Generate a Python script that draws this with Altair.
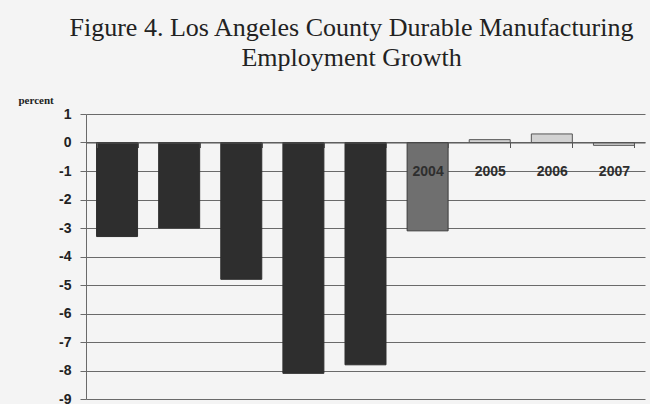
import altair as alt
import pandas as pd

years = ["1999", "2000", "2001", "2002", "2003", "2004", "2005", "2006", "2007"]
growth = [-3.3, -3.0, -4.8, -8.1, -7.8, -3.1, 0.1, 0.3, -0.1]
shade = ["dark", "dark", "dark", "dark", "dark", "mid", "light", "light", "light"]

shade_domain = ["dark", "mid", "light"]
shade_fill = ["#2e2e2e", "#6f6f6f", "#d2d2d2"]
shade_stroke = ["#2e2e2e", "#3a3a3a", "#555555"]

df = pd.DataFrame({"year": years, "growth": growth, "shade": shade})

W, H = 559, 285

bars = alt.Chart(df).mark_bar(strokeWidth=1).encode(
    x=alt.X(
        "year:N",
        sort=years,
        title=None,
        scale=alt.Scale(paddingInner=0.34, paddingOuter=0.17),
        axis=alt.Axis(
            orient="bottom",
            offset=-256.5,
            zindex=1,
            tickBand="extent",
            tickSize=5,
            tickColor="#555555",
            domainColor="#555555",
            domainWidth=1,
            labelAngle=0,
            labelPadding=17,
            labelFont="Liberation Sans",
            labelFontSize=14,
            labelFontWeight="bold",
            labelColor="#2e2e2e",
            grid=False,
        ),
    ),
    y=alt.Y(
        "growth:Q",
        scale=alt.Scale(domain=[-9, 1], nice=False),
        axis=alt.Axis(
            values=list(range(-9, 2)),
            labelExpr="'' + datum.value",
            grid=True,
            gridColor="#6a6a6a",
            gridWidth=1,
            tickColor="#6a6a6a",
            tickSize=6,
            domainColor="#6a6a6a",
            labelPadding=9,
            labelFont="Liberation Sans",
            labelFontSize=14,
            labelFontWeight="bold",
            labelColor="#222222",
            title="percent",
            titleAngle=0,
            titleFont="Liberation Serif",
            titleFontSize=11,
            titleFontWeight="bold",
            titleColor="#222222",
            titleAlign="left",
            titleBaseline="middle",
            titleX=-68,
            titleY=-14,
        ),
    ),
    color=alt.Color("shade:N", scale=alt.Scale(domain=shade_domain, range=shade_fill), legend=None),
    stroke=alt.Stroke("shade:N", scale=alt.Scale(domain=shade_domain, range=shade_stroke), legend=None),
)

chart = bars.properties(
    width=W,
    height=H,
    autosize=alt.AutoSizeParams(type="none"),
    padding={"left": 86, "top": 114, "right": 5, "bottom": 5},
    background="#f4f4f4",
    title=alt.TitleParams(
        text=["Figure 4. Los Angeles County Durable Manufacturing", "Employment Growth"],
        font="Liberation Serif",
        fontSize=26,
        fontWeight="normal",
        color="#222222",
        anchor="middle",
        dx=-14,
        offset=23,
        lineHeight=30,
    ),
).configure_view(stroke=None)

chart.save("out.html", embed_options={"renderer": "svg", "actions": False})
